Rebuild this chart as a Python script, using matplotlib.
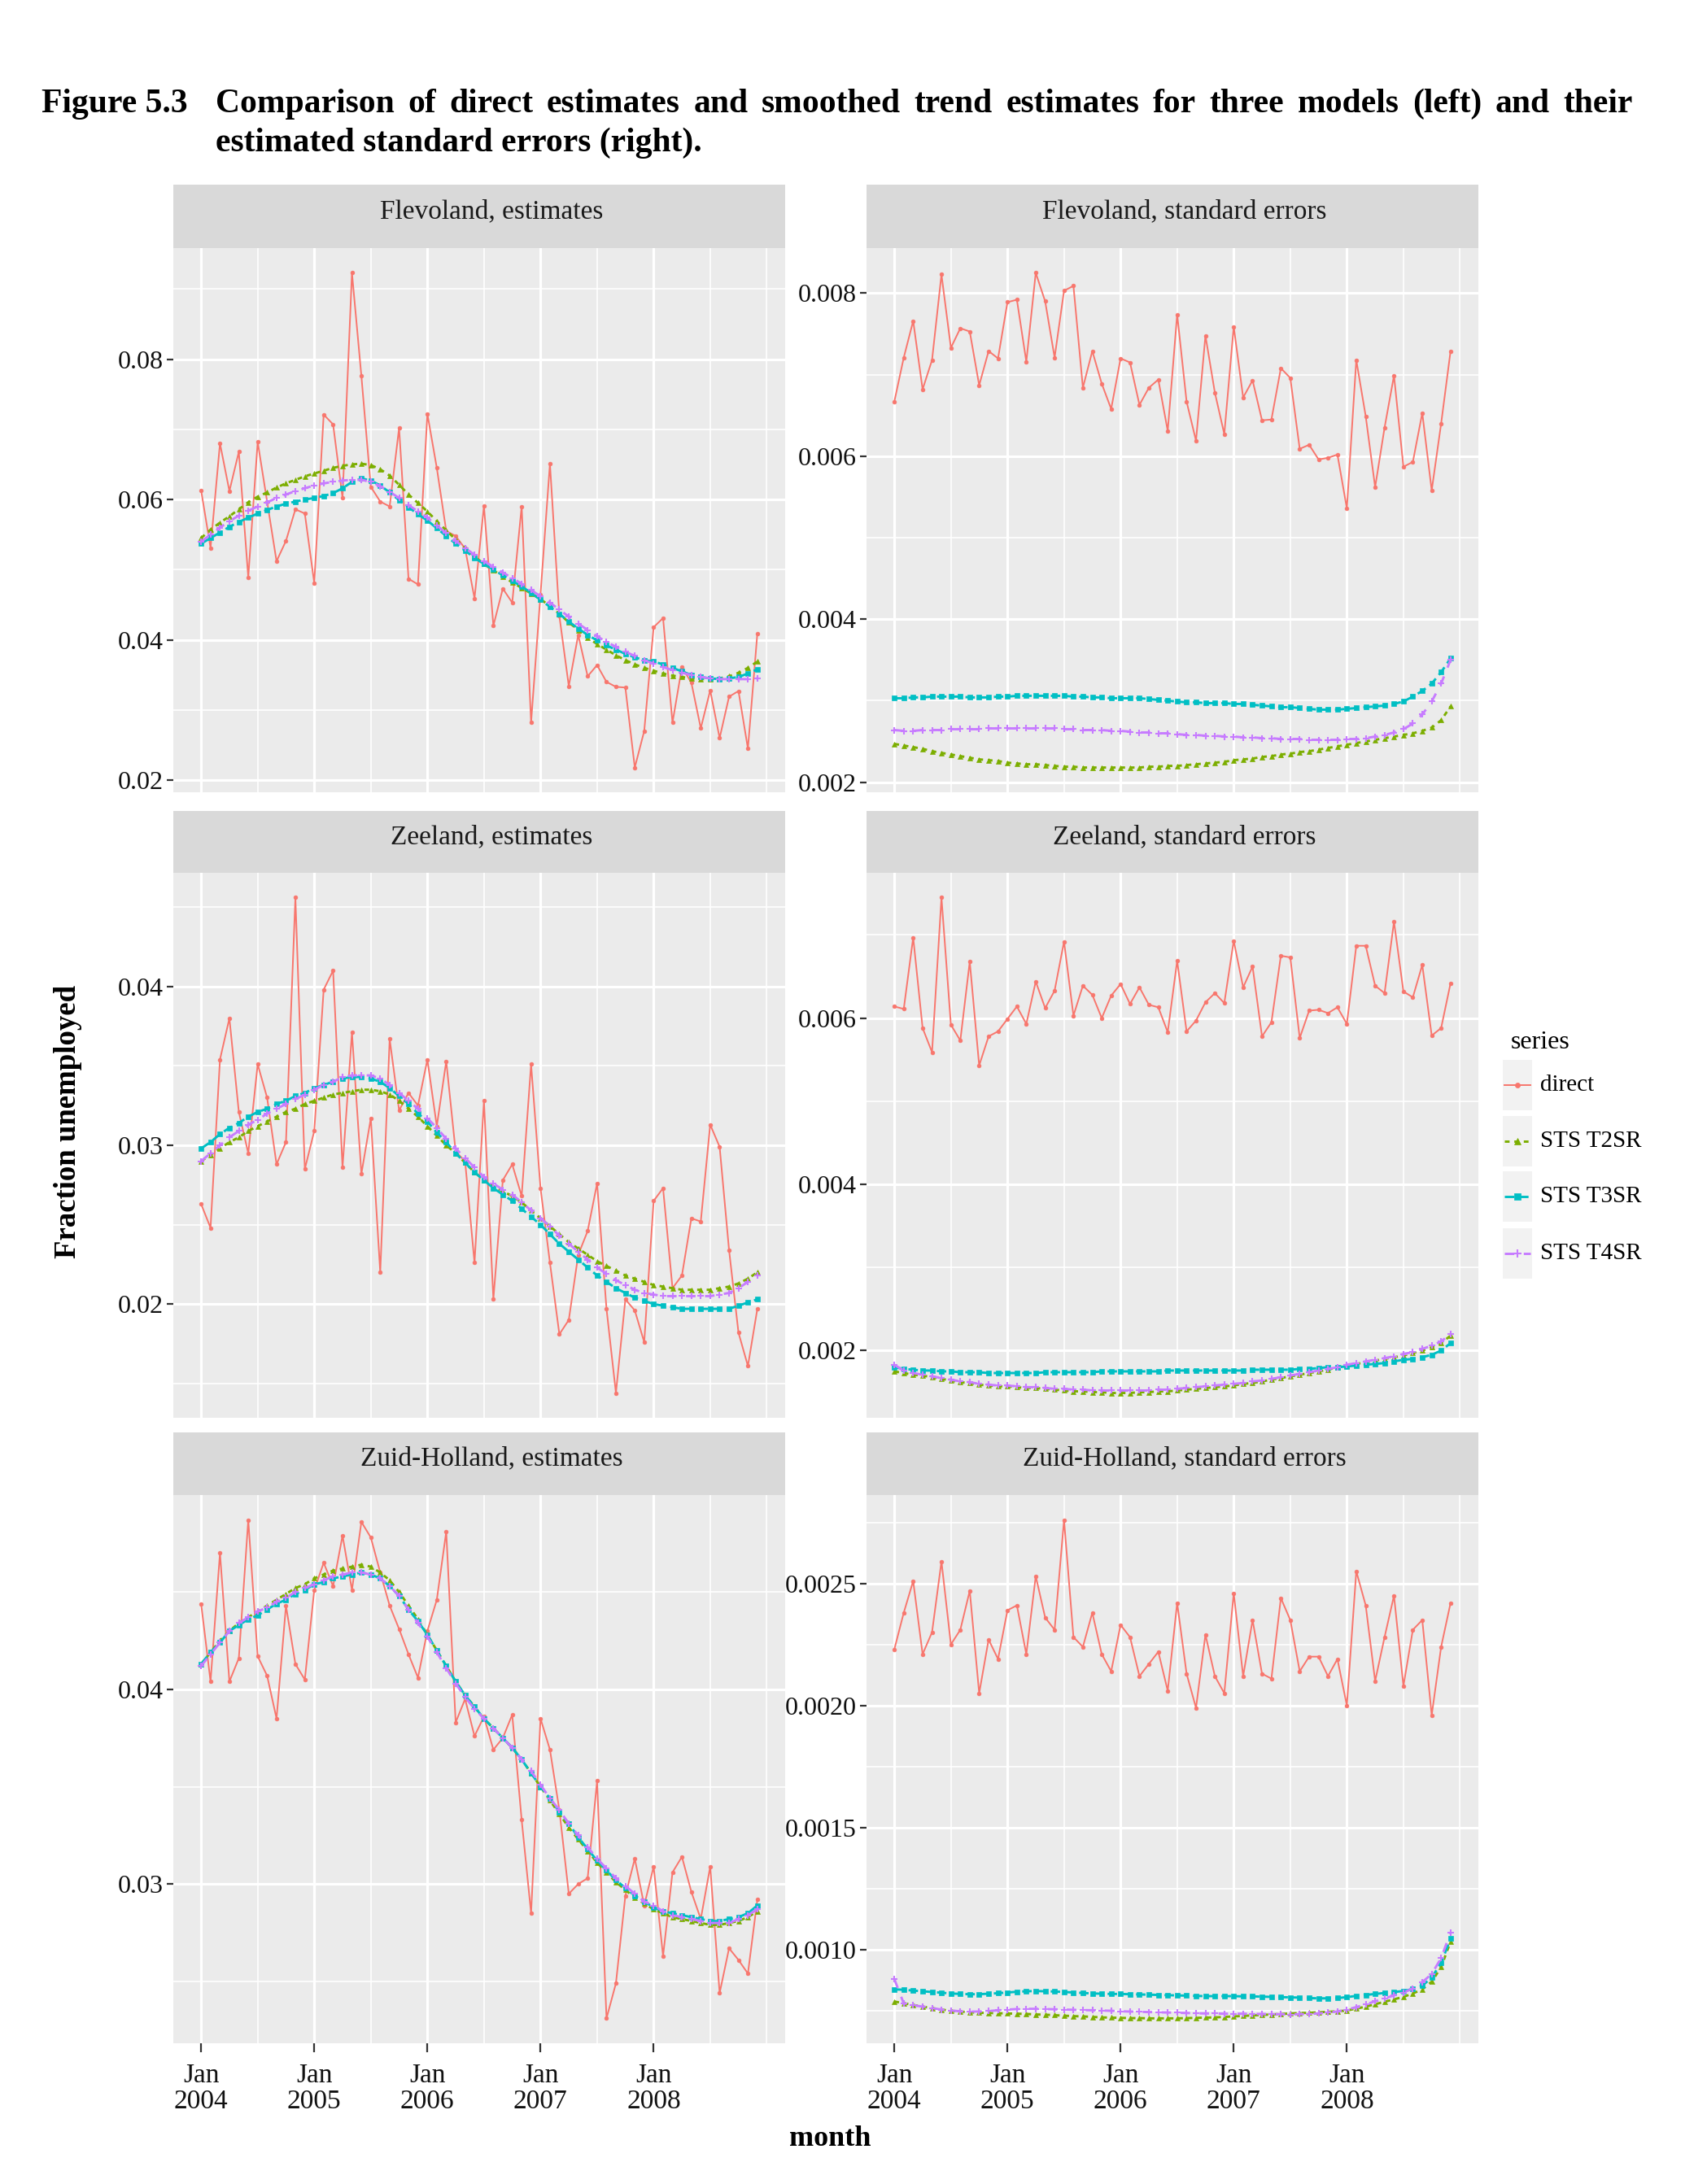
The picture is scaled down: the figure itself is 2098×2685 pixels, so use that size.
import numpy as np
import matplotlib
matplotlib.use("Agg")
import matplotlib.pyplot as plt
from matplotlib.patches import Rectangle
from matplotlib.lines import Line2D

# ---------------- data ----------------
months = np.arange(60)  # Jan 2004 .. Dec 2008
x_tick_pos = [0, 12, 24, 36, 48]
x_tick_labels = ["Jan\n2004", "Jan\n2005", "Jan\n2006", "Jan\n2007", "Jan\n2008"]
x_minor_pos = [6, 18, 30, 42, 54, 60]

series_names = ["direct", "STS T2SR", "STS T3SR", "STS T4SR"]
series_colors = ["#F8766D", "#7CAE00", "#00BFC4", "#C77CFF"]

flevo_est_direct = [0.0613, 0.0531, 0.0680, 0.0612, 0.0668, 0.0489, 0.0682, 0.0597, 0.0512, 0.0541,
                    0.0586, 0.0580, 0.0481, 0.0721, 0.0707, 0.0602, 0.0923, 0.0776, 0.0618, 0.0597,
                    0.0590, 0.0702, 0.0487, 0.0479, 0.0722, 0.0645, 0.0555, 0.0548, 0.0530, 0.0459,
                    0.0591, 0.0420, 0.0473, 0.0453, 0.0590, 0.0282, 0.0465, 0.0651, 0.0434, 0.0334,
                    0.0407, 0.0348, 0.0364, 0.0340, 0.0333, 0.0332, 0.0218, 0.0270, 0.0418, 0.0431,
                    0.0282, 0.0361, 0.0339, 0.0274, 0.0328, 0.0260, 0.0319, 0.0327, 0.0245, 0.0409]
flevo_est_t2 = [0.0545, 0.0557, 0.0567, 0.0576, 0.0586, 0.0596, 0.0604, 0.0610, 0.0617, 0.0623,
                0.0628, 0.0633, 0.0637, 0.0641, 0.0645, 0.0648, 0.0650, 0.0651, 0.0649, 0.0643,
                0.0634, 0.0621, 0.0607, 0.0595, 0.0583, 0.0569, 0.0556, 0.0543, 0.0531, 0.0519,
                0.0508, 0.0499, 0.0490, 0.0482, 0.0474, 0.0466, 0.0458, 0.0448, 0.0437, 0.0425,
                0.0414, 0.0403, 0.0394, 0.0386, 0.0378, 0.0371, 0.0365, 0.0360, 0.0356, 0.0352,
                0.0349, 0.0347, 0.0345, 0.0344, 0.0344, 0.0345, 0.0348, 0.0353, 0.0360, 0.0369]
flevo_est_t3 = [0.0537, 0.0545, 0.0553, 0.0561, 0.0568, 0.0574, 0.0580, 0.0585, 0.0590, 0.0594,
                0.0597, 0.0600, 0.0602, 0.0605, 0.0609, 0.0616, 0.0625, 0.0630, 0.0627, 0.0620,
                0.0610, 0.0599, 0.0589, 0.0579, 0.0570, 0.0559, 0.0548, 0.0537, 0.0527, 0.0517,
                0.0508, 0.0500, 0.0492, 0.0484, 0.0476, 0.0467, 0.0457, 0.0447, 0.0437, 0.0426,
                0.0416, 0.0407, 0.0399, 0.0392, 0.0386, 0.0380, 0.0375, 0.0371, 0.0369, 0.0365,
                0.0360, 0.0355, 0.0350, 0.0347, 0.0345, 0.0344, 0.0345, 0.0347, 0.0352, 0.0358]
flevo_est_t4 = [0.0540, 0.0550, 0.0560, 0.0569, 0.0577, 0.0584, 0.0590, 0.0596, 0.0602, 0.0607,
                0.0612, 0.0616, 0.0620, 0.0623, 0.0625, 0.0627, 0.0628, 0.0628, 0.0625, 0.0619,
                0.0611, 0.0602, 0.0592, 0.0583, 0.0574, 0.0563, 0.0552, 0.0541, 0.0531, 0.0521,
                0.0512, 0.0504, 0.0496, 0.0488, 0.0480, 0.0471, 0.0462, 0.0453, 0.0443, 0.0433,
                0.0423, 0.0414, 0.0405, 0.0397, 0.0390, 0.0383, 0.0377, 0.0371, 0.0366, 0.0361,
                0.0357, 0.0353, 0.0350, 0.0347, 0.0345, 0.0344, 0.0344, 0.0344, 0.0344, 0.0345]

flevo_se_direct = [0.00667, 0.00721, 0.00766, 0.00682, 0.00718, 0.00823, 0.00733, 0.00757, 0.00753, 0.00687,
                   0.00729, 0.00720, 0.00789, 0.00792, 0.00716, 0.00825, 0.00790, 0.00721, 0.00803, 0.00809,
                   0.00684, 0.00729, 0.00689, 0.00658, 0.00720, 0.00715, 0.00663, 0.00684, 0.00694, 0.00631,
                   0.00774, 0.00667, 0.00619, 0.00748, 0.00678, 0.00627, 0.00759, 0.00672, 0.00693, 0.00644,
                   0.00645, 0.00708, 0.00696, 0.00609, 0.00614, 0.00596, 0.00598, 0.00602, 0.00536, 0.00718,
                   0.00649, 0.00562, 0.00635, 0.00699, 0.00587, 0.00593, 0.00653, 0.00558, 0.00640, 0.00729]
flevo_se_t2 = [0.00247, 0.00245, 0.00243, 0.00241, 0.00238, 0.00236, 0.00234, 0.00232, 0.00230, 0.00228,
               0.00227, 0.00226, 0.00224, 0.00223, 0.00222, 0.00222, 0.00221, 0.00220, 0.00219, 0.00219,
               0.00218, 0.00218, 0.00218, 0.00218, 0.00218, 0.00218, 0.00218, 0.00219, 0.00219, 0.00220,
               0.00220, 0.00221, 0.00222, 0.00223, 0.00224, 0.00225, 0.00227, 0.00228, 0.00229, 0.00231,
               0.00232, 0.00234, 0.00235, 0.00237, 0.00238, 0.00240, 0.00242, 0.00244, 0.00246, 0.00248,
               0.00250, 0.00252, 0.00254, 0.00256, 0.00258, 0.00260, 0.00263, 0.00267, 0.00276, 0.00293]
flevo_se_t3 = [0.00303, 0.00303, 0.00304, 0.00304, 0.00305, 0.00305, 0.00305, 0.00305, 0.00304, 0.00304,
               0.00304, 0.00305, 0.00305, 0.00306, 0.00306, 0.00306, 0.00306, 0.00306, 0.00306, 0.00305,
               0.00305, 0.00304, 0.00304, 0.00303, 0.00303, 0.00303, 0.00303, 0.00302, 0.00301, 0.00300,
               0.00299, 0.00298, 0.00298, 0.00297, 0.00297, 0.00297, 0.00296, 0.00296, 0.00295, 0.00294,
               0.00293, 0.00292, 0.00292, 0.00291, 0.00290, 0.00289, 0.00289, 0.00289, 0.00290, 0.00291,
               0.00292, 0.00293, 0.00294, 0.00296, 0.00299, 0.00305, 0.00312, 0.00321, 0.00335, 0.00352]
flevo_se_t4 = [0.00264, 0.00263, 0.00263, 0.00264, 0.00264, 0.00264, 0.00265, 0.00265, 0.00265, 0.00265,
               0.00266, 0.00266, 0.00266, 0.00266, 0.00266, 0.00266, 0.00266, 0.00266, 0.00265, 0.00265,
               0.00264, 0.00264, 0.00264, 0.00263, 0.00263, 0.00262, 0.00261, 0.00261, 0.00260, 0.00260,
               0.00259, 0.00258, 0.00258, 0.00257, 0.00257, 0.00256, 0.00256, 0.00255, 0.00255, 0.00254,
               0.00254, 0.00253, 0.00253, 0.00253, 0.00252, 0.00252, 0.00252, 0.00252, 0.00253, 0.00253,
               0.00254, 0.00256, 0.00258, 0.00261, 0.00265, 0.00272, 0.00283, 0.00299, 0.00321, 0.00350]

zee_est_direct = [0.0263, 0.0248, 0.0354, 0.0380, 0.0321, 0.0295, 0.0351, 0.0330, 0.0288, 0.0302,
                  0.0456, 0.0285, 0.0309, 0.0398, 0.0410, 0.0286, 0.0371, 0.0282, 0.0317, 0.0220,
                  0.0367, 0.0322, 0.0333, 0.0325, 0.0354, 0.0312, 0.0353, 0.0296, 0.0290, 0.0226,
                  0.0328, 0.0203, 0.0278, 0.0288, 0.0268, 0.0351, 0.0273, 0.0226, 0.0181, 0.0190,
                  0.0231, 0.0246, 0.0276, 0.0197, 0.0144, 0.0203, 0.0196, 0.0176, 0.0265, 0.0273,
                  0.0210, 0.0218, 0.0254, 0.0252, 0.0313, 0.0299, 0.0234, 0.0182, 0.0161, 0.0197]
zee_est_t2 = [0.0290, 0.0294, 0.0298, 0.0302, 0.0305, 0.0309, 0.0312, 0.0315, 0.0318, 0.0321,
              0.0323, 0.0326, 0.0328, 0.0330, 0.0332, 0.0333, 0.0334, 0.0335, 0.0335, 0.0334,
              0.0332, 0.0328, 0.0323, 0.0318, 0.0312, 0.0306, 0.0300, 0.0295, 0.0289, 0.0283,
              0.0278, 0.0274, 0.0271, 0.0268, 0.0264, 0.0259, 0.0254, 0.0249, 0.0244, 0.0239,
              0.0235, 0.0231, 0.0227, 0.0224, 0.0221, 0.0218, 0.0216, 0.0214, 0.0212, 0.0211,
              0.0210, 0.0209, 0.0209, 0.0209, 0.0209, 0.0210, 0.0211, 0.0213, 0.0216, 0.0220]
zee_est_t3 = [0.0298, 0.0302, 0.0307, 0.0311, 0.0314, 0.0318, 0.0321, 0.0323, 0.0326, 0.0328,
              0.0331, 0.0333, 0.0336, 0.0338, 0.0340, 0.0342, 0.0343, 0.0343, 0.0342, 0.0340,
              0.0336, 0.0331, 0.0326, 0.0320, 0.0315, 0.0308, 0.0302, 0.0295, 0.0289, 0.0283,
              0.0278, 0.0273, 0.0269, 0.0265, 0.0260, 0.0255, 0.0250, 0.0244, 0.0238, 0.0233,
              0.0228, 0.0223, 0.0218, 0.0214, 0.0210, 0.0207, 0.0204, 0.0202, 0.0200, 0.0199,
              0.0198, 0.0197, 0.0197, 0.0197, 0.0197, 0.0197, 0.0197, 0.0199, 0.0201, 0.0203]
zee_est_t4 = [0.0290, 0.0295, 0.0300, 0.0305, 0.0309, 0.0313, 0.0316, 0.0320, 0.0323, 0.0326,
              0.0329, 0.0332, 0.0335, 0.0338, 0.0340, 0.0343, 0.0344, 0.0344, 0.0344, 0.0342,
              0.0338, 0.0333, 0.0328, 0.0323, 0.0317, 0.0311, 0.0304, 0.0298, 0.0292, 0.0286,
              0.0280, 0.0276, 0.0272, 0.0269, 0.0264, 0.0259, 0.0254, 0.0249, 0.0243, 0.0238,
              0.0233, 0.0228, 0.0223, 0.0219, 0.0215, 0.0212, 0.0209, 0.0207, 0.0206, 0.0205,
              0.0205, 0.0205, 0.0205, 0.0205, 0.0205, 0.0206, 0.0207, 0.0210, 0.0214, 0.0218]

zee_se_direct = [0.00614, 0.00611, 0.00697, 0.00588, 0.00559, 0.00745, 0.00592, 0.00573, 0.00668, 0.00543,
                 0.00578, 0.00584, 0.00599, 0.00614, 0.00593, 0.00644, 0.00612, 0.00633, 0.00692, 0.00603,
                 0.00639, 0.00628, 0.00600, 0.00627, 0.00641, 0.00617, 0.00637, 0.00616, 0.00613, 0.00583,
                 0.00669, 0.00584, 0.00597, 0.00619, 0.00630, 0.00618, 0.00693, 0.00637, 0.00662, 0.00578,
                 0.00595, 0.00675, 0.00673, 0.00576, 0.00609, 0.00610, 0.00606, 0.00613, 0.00593, 0.00687,
                 0.00687, 0.00639, 0.00630, 0.00716, 0.00632, 0.00625, 0.00664, 0.00579, 0.00588, 0.00642]
zee_se_t2 = [0.00175, 0.00173, 0.00171, 0.00170, 0.00168, 0.00166, 0.00164, 0.00162, 0.00161, 0.00159,
             0.00158, 0.00157, 0.00157, 0.00156, 0.00155, 0.00155, 0.00154, 0.00153, 0.00152, 0.00151,
             0.00151, 0.00150, 0.00150, 0.00149, 0.00149, 0.00149, 0.00150, 0.00150, 0.00151, 0.00151,
             0.00152, 0.00153, 0.00154, 0.00155, 0.00156, 0.00157, 0.00158, 0.00160, 0.00161, 0.00163,
             0.00165, 0.00167, 0.00169, 0.00171, 0.00173, 0.00175, 0.00177, 0.00180, 0.00182, 0.00184,
             0.00186, 0.00188, 0.00190, 0.00192, 0.00194, 0.00197, 0.00200, 0.00204, 0.00209, 0.00218]
zee_se_t3 = [0.00180, 0.00178, 0.00177, 0.00176, 0.00176, 0.00175, 0.00175, 0.00174, 0.00174, 0.00174,
             0.00173, 0.00173, 0.00173, 0.00173, 0.00173, 0.00173, 0.00174, 0.00174, 0.00174, 0.00174,
             0.00174, 0.00174, 0.00175, 0.00175, 0.00175, 0.00175, 0.00175, 0.00175, 0.00175, 0.00176,
             0.00176, 0.00176, 0.00176, 0.00176, 0.00176, 0.00176, 0.00176, 0.00176, 0.00177, 0.00177,
             0.00177, 0.00177, 0.00177, 0.00178, 0.00178, 0.00179, 0.00180, 0.00180, 0.00181, 0.00182,
             0.00183, 0.00184, 0.00185, 0.00187, 0.00189, 0.00190, 0.00192, 0.00195, 0.00200, 0.00209]
zee_se_t4 = [0.00183, 0.00176, 0.00173, 0.00171, 0.00169, 0.00167, 0.00165, 0.00163, 0.00162, 0.00160,
             0.00159, 0.00158, 0.00158, 0.00157, 0.00156, 0.00156, 0.00155, 0.00154, 0.00154, 0.00153,
             0.00153, 0.00152, 0.00152, 0.00152, 0.00152, 0.00152, 0.00152, 0.00152, 0.00153, 0.00153,
             0.00154, 0.00155, 0.00156, 0.00157, 0.00158, 0.00159, 0.00160, 0.00161, 0.00163, 0.00164,
             0.00166, 0.00168, 0.00170, 0.00172, 0.00174, 0.00176, 0.00178, 0.00180, 0.00183, 0.00185,
             0.00187, 0.00189, 0.00191, 0.00193, 0.00196, 0.00198, 0.00202, 0.00206, 0.00211, 0.00220]

zh_est_direct = [0.0444, 0.0404, 0.0470, 0.0404, 0.0416, 0.0487, 0.0417, 0.0407, 0.0385, 0.0443,
                 0.0413, 0.0405, 0.0451, 0.0465, 0.0453, 0.0479, 0.0451, 0.0486, 0.0478, 0.0460,
                 0.0443, 0.0431, 0.0418, 0.0406, 0.0430, 0.0446, 0.0481, 0.0383, 0.0395, 0.0376,
                 0.0386, 0.0369, 0.0375, 0.0387, 0.0333, 0.0285, 0.0385, 0.0369, 0.0338, 0.0295,
                 0.0300, 0.0303, 0.0353, 0.0231, 0.0249, 0.0294, 0.0313, 0.0289, 0.0309, 0.0263,
                 0.0306, 0.0314, 0.0296, 0.0282, 0.0309, 0.0244, 0.0267, 0.0261, 0.0254, 0.0292]
zh_est_t2 = [0.0413, 0.0419, 0.0425, 0.0430, 0.0434, 0.0437, 0.0440, 0.0443, 0.0446, 0.0449,
             0.0452, 0.0454, 0.0457, 0.0459, 0.0461, 0.0462, 0.0463, 0.0464, 0.0463, 0.0460,
             0.0456, 0.0450, 0.0443, 0.0436, 0.0428, 0.0420, 0.0412, 0.0404, 0.0397, 0.0391,
             0.0385, 0.0380, 0.0375, 0.0370, 0.0364, 0.0357, 0.0350, 0.0343, 0.0336, 0.0329,
             0.0323, 0.0317, 0.0311, 0.0306, 0.0301, 0.0297, 0.0293, 0.0290, 0.0287, 0.0285,
             0.0283, 0.0282, 0.0281, 0.0280, 0.0279, 0.0279, 0.0280, 0.0281, 0.0283, 0.0286]
zh_est_t3 = [0.0413, 0.0419, 0.0424, 0.0430, 0.0433, 0.0436, 0.0438, 0.0441, 0.0444, 0.0446,
             0.0449, 0.0451, 0.0454, 0.0455, 0.0457, 0.0458, 0.0459, 0.0460, 0.0459, 0.0457,
             0.0453, 0.0448, 0.0441, 0.0435, 0.0428, 0.0420, 0.0412, 0.0404, 0.0397, 0.0391,
             0.0385, 0.0380, 0.0375, 0.0370, 0.0364, 0.0357, 0.0350, 0.0344, 0.0337, 0.0331,
             0.0324, 0.0318, 0.0312, 0.0307, 0.0302, 0.0298, 0.0294, 0.0291, 0.0288, 0.0286,
             0.0285, 0.0284, 0.0283, 0.0282, 0.0281, 0.0281, 0.0282, 0.0283, 0.0285, 0.0289]
zh_est_t4 = [0.0412, 0.0418, 0.0424, 0.0430, 0.0434, 0.0437, 0.0440, 0.0442, 0.0445, 0.0447,
             0.0450, 0.0452, 0.0454, 0.0456, 0.0458, 0.0459, 0.0460, 0.0460, 0.0459, 0.0457,
             0.0453, 0.0448, 0.0441, 0.0434, 0.0427, 0.0419, 0.0411, 0.0403, 0.0396, 0.0390,
             0.0385, 0.0380, 0.0375, 0.0370, 0.0364, 0.0358, 0.0351, 0.0344, 0.0338, 0.0331,
             0.0325, 0.0319, 0.0313, 0.0308, 0.0303, 0.0299, 0.0295, 0.0291, 0.0289, 0.0286,
             0.0284, 0.0283, 0.0282, 0.0281, 0.0280, 0.0280, 0.0280, 0.0282, 0.0284, 0.0287]

zh_se_direct = [0.00223, 0.00238, 0.00251, 0.00221, 0.00230, 0.00259, 0.00225, 0.00231, 0.00247, 0.00205,
                0.00227, 0.00219, 0.00239, 0.00241, 0.00221, 0.00253, 0.00236, 0.00231, 0.00276, 0.00228,
                0.00224, 0.00238, 0.00221, 0.00214, 0.00233, 0.00228, 0.00212, 0.00217, 0.00222, 0.00206,
                0.00242, 0.00213, 0.00199, 0.00229, 0.00212, 0.00205, 0.00246, 0.00212, 0.00235, 0.00213,
                0.00211, 0.00244, 0.00235, 0.00214, 0.00220, 0.00220, 0.00212, 0.00219, 0.00200, 0.00255,
                0.00241, 0.00210, 0.00228, 0.00245, 0.00208, 0.00231, 0.00235, 0.00196, 0.00224, 0.00242]
zh_se_t2 = [0.000787, 0.000780, 0.000773, 0.000766, 0.000760, 0.000754, 0.000749, 0.000746, 0.000743, 0.000741,
            0.000740, 0.000739, 0.000738, 0.000737, 0.000736, 0.000734, 0.000733, 0.000731, 0.000729, 0.000727,
            0.000726, 0.000724, 0.000722, 0.000721, 0.000720, 0.000719, 0.000719, 0.000718, 0.000718, 0.000718,
            0.000718, 0.000719, 0.000720, 0.000721, 0.000722, 0.000724, 0.000726, 0.000728, 0.000730, 0.000732,
            0.000734, 0.000736, 0.000738, 0.000740, 0.000741, 0.000743, 0.000745, 0.000747, 0.000750, 0.000758,
            0.000766, 0.000776, 0.000786, 0.000796, 0.000806, 0.000820, 0.000837, 0.000868, 0.000928, 0.001032]
zh_se_t3 = [0.000837, 0.000835, 0.000832, 0.000829, 0.000826, 0.000823, 0.000820, 0.000818, 0.000817, 0.000817,
            0.000819, 0.000821, 0.000824, 0.000827, 0.000829, 0.000830, 0.000829, 0.000828, 0.000826, 0.000824,
            0.000822, 0.000820, 0.000819, 0.000818, 0.000818, 0.000817, 0.000816, 0.000815, 0.000814, 0.000813,
            0.000812, 0.000811, 0.000810, 0.000809, 0.000809, 0.000809, 0.000809, 0.000808, 0.000808, 0.000807,
            0.000806, 0.000805, 0.000804, 0.000803, 0.000801, 0.000800, 0.000800, 0.000801, 0.000805, 0.000810,
            0.000814, 0.000818, 0.000822, 0.000826, 0.000830, 0.000838, 0.000852, 0.000885, 0.000945, 0.001045]
zh_se_t4 = [0.000879, 0.000779, 0.000772, 0.000766, 0.000760, 0.000754, 0.000750, 0.000747, 0.000746, 0.000746,
            0.000748, 0.000751, 0.000754, 0.000756, 0.000757, 0.000757, 0.000756, 0.000755, 0.000754, 0.000753,
            0.000752, 0.000751, 0.000750, 0.000749, 0.000747, 0.000746, 0.000745, 0.000744, 0.000743, 0.000742,
            0.000741, 0.000740, 0.000739, 0.000738, 0.000738, 0.000737, 0.000737, 0.000737, 0.000736, 0.000736,
            0.000735, 0.000735, 0.000734, 0.000735, 0.000736, 0.000738, 0.000742, 0.000746, 0.000754, 0.000764,
            0.000775, 0.000788, 0.000800, 0.000812, 0.000824, 0.000840, 0.000866, 0.000900, 0.000965, 0.001070]

panel_titles = ["Flevoland, estimates", "Flevoland, standard errors",
                "Zeeland, estimates", "Zeeland, standard errors",
                "Zuid-Holland, estimates", "Zuid-Holland, standard errors"]
panel_series = [
    [flevo_est_direct, flevo_est_t2, flevo_est_t3, flevo_est_t4],
    [flevo_se_direct, flevo_se_t2, flevo_se_t3, flevo_se_t4],
    [zee_est_direct, zee_est_t2, zee_est_t3, zee_est_t4],
    [zee_se_direct, zee_se_t2, zee_se_t3, zee_se_t4],
    [zh_est_direct, zh_est_t2, zh_est_t3, zh_est_t4],
    [zh_se_direct, zh_se_t2, zh_se_t3, zh_se_t4],
]
panel_yticks = [
    ([0.02, 0.04, 0.06, 0.08], ["0.02", "0.04", "0.06", "0.08"], [0.03, 0.05, 0.07, 0.09]),
    ([0.002, 0.004, 0.006, 0.008], ["0.002", "0.004", "0.006", "0.008"], [0.003, 0.005, 0.007]),
    ([0.02, 0.03, 0.04], ["0.02", "0.03", "0.04"], [0.015, 0.025, 0.035, 0.045]),
    ([0.002, 0.004, 0.006], ["0.002", "0.004", "0.006"], [0.003, 0.005, 0.007]),
    ([0.03, 0.04], ["0.03", "0.04"], [0.025, 0.035, 0.045]),
    ([0.0010, 0.0015, 0.0020, 0.0025], ["0.0010", "0.0015", "0.0020", "0.0025"],
     [0.00075, 0.00125, 0.00175, 0.00225, 0.00275]),
]

# ---------------- styling ----------------
plt.rcParams['font.family'] = ['Liberation Serif', 'DejaVu Serif']
W, H = 2098, 2685
fig = plt.figure(figsize=(W / 100, H / 100), dpi=100)
fig.patch.set_facecolor('white')

def fx(px):
    return px / W

def fy(py):
    return 1 - py / H

linestyles = ['-', (0, (2, 2)), (0, (4, 2)), (0, (4, 4))]
markers = ['o', '^', 's', '+']
msizes = [3.4, 4.6, 4.1, 6.0]
lwidths = [1.4, 2.1, 2.1, 2.1]

col_x = [(213, 965), (1065, 1817)]
row_strip = [(227, 305), (997, 1073), (1761, 1838)]
row_panel = [(305, 974), (1073, 1743), (1838, 2512)]

for k in range(6):
    r, c = divmod(k, 2)
    x0, x1 = col_x[c]
    s0, s1 = row_strip[r]
    p0, p1 = row_panel[r]
    # strip
    sax = fig.add_axes([fx(x0), fy(s1), fx(x1 - x0), (s1 - s0) / H])
    sax.set_facecolor('#D9D9D9')
    sax.set_xticks([]); sax.set_yticks([])
    for sp in sax.spines.values():
        sp.set_visible(False)
    fig.text(fx((x0 + x1) / 2 + 15), fy((s0 + s1) / 2 - 6), panel_titles[k],
             ha='center', va='center', fontsize=24, color='#1A1A1A', zorder=5)
    # panel
    ax = fig.add_axes([fx(x0), fy(p1), fx(x1 - x0), (p1 - p0) / H])
    ax.set_facecolor('#EBEBEB')
    for sp in ax.spines.values():
        sp.set_visible(False)
    ax.set_axisbelow(True)
    for j in range(4):
        ax.plot(months, panel_series[k][j], color=series_colors[j], linestyle=linestyles[j],
                lw=lwidths[j], marker=markers[j], ms=msizes[j], mew=1.5 if j == 3 else 0.5,
                mec=series_colors[j], zorder=3 + j)
    ax.set_xlim(-2.95, 61.95)
    ax.margins(y=0.05)
    major, labels, minor = panel_yticks[k]
    ax.set_yticks(major)
    ax.set_yticklabels(labels)
    ax.set_yticks(minor, minor=True)
    ax.set_xticks(x_tick_pos)
    ax.set_xticks(x_minor_pos, minor=True)
    ax.grid(which='major', color='white', lw=2.3)
    ax.grid(which='minor', color='white', lw=1.2)
    ax.tick_params(which='minor', length=0)
    ax.tick_params(axis='y', which='major', length=6, width=1.6, color='#333333',
                   labelsize=23, labelcolor='#111111', pad=3)
    if r == 2:
        ax.set_xticklabels(x_tick_labels)
        ax.tick_params(axis='x', which='major', length=8, width=1.6, color='#333333',
                       labelsize=24, labelcolor='#111111', pad=10)
        for t in ax.get_xticklabels():
            t.set_linespacing(1.05)
    else:
        ax.set_xticklabels([])
        ax.tick_params(axis='x', which='major', length=0)

# axis titles
fig.text(fx(84), fy(1379), "Fraction unemployed", rotation=90, ha='center', va='center',
         fontsize=26.5, fontweight='bold')
fig.text(fx(1020), fy(2630), "month", ha='center', va='center', fontsize=26, fontweight='bold')

# legend (manual, ggplot-like)
lax = fig.add_axes([fx(1830), fy(1600), fx(260), 360 / H])
lax.set_xlim(1830, 2090)
lax.set_ylim(1600, 1240)
lax.axis('off')
lax.text(1857, 1281, "series", ha='left', va='center', fontsize=23)
key_centers = [1334, 1403, 1471, 1541]
for j, name in enumerate(series_names):
    yc = key_centers[j]
    lax.add_patch(Rectangle((1847, yc - 31), 36, 62, facecolor='#F2F2F2', edgecolor='none'))
    lax.add_line(Line2D([1849, 1865, 1881], [yc, yc, yc], color=series_colors[j],
                        linestyle=linestyles[j], lw=lwidths[j], marker=markers[j],
                        ms=msizes[j] + 1, markevery=[1], mew=1.5 if j == 3 else 0.5,
                        mec=series_colors[j]))
    lax.text(1893, yc, name, ha='left', va='center', fontsize=21)

# title (justified first line)
fig.text(fx(51), fy(128), "Figure 5.3", ha='left', va='center', fontsize=30, fontweight='bold')
words = "Comparison of direct estimates and smoothed trend estimates for three models (left) and their".split()
renderer = fig.canvas.get_renderer()
tobjs = [fig.text(0, fy(128), w_, ha='left', va='center', fontsize=30, fontweight='bold') for w_ in words]
widths = [t.get_window_extent(renderer=renderer).width for t in tobjs]
left, right = 265, 2007
gap = (right - left - sum(widths)) / (len(words) - 1)
xpos = left
for t, wd in zip(tobjs, widths):
    t.set_x(fx(xpos))
    xpos += wd + gap
fig.text(fx(265), fy(176), "estimated standard errors (right).", ha='left', va='center',
         fontsize=30, fontweight='bold')

fig.savefig("out.png", dpi=100, facecolor='white')
